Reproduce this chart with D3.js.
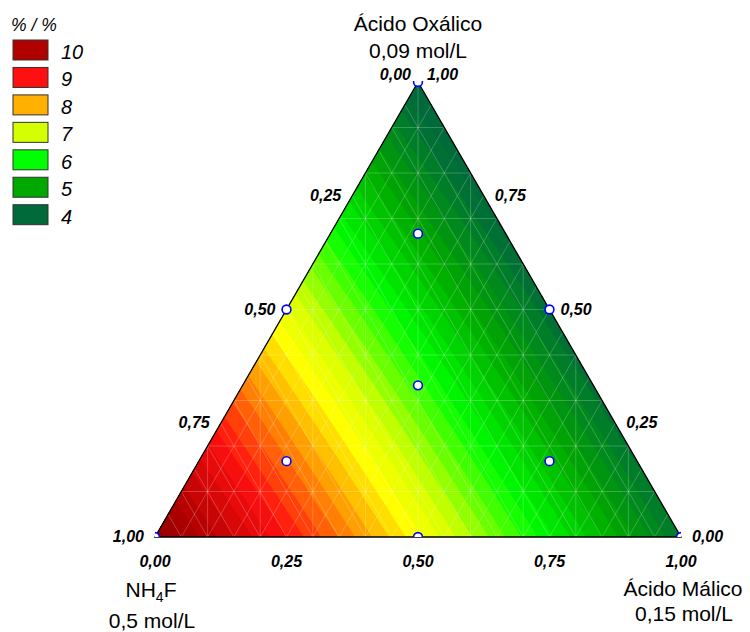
<!DOCTYPE html>
<html>
<head>
<meta charset="utf-8">
<script src="https://cdn.jsdelivr.net/npm/d3@7/dist/d3.min.js"></script>
<style>
  body { margin: 0; background: #fff; }
  svg { display: block; font-family: "Liberation Sans", Arial, sans-serif; }
</style>
</head>
<body>
<svg id="chart" width="750" height="632"></svg>
<script>
// Fitted Scheffé quadratic model, components: a = NH4F, b = Ácido Málico, c = Ácido Oxálico
const modelTerms = ["a", "b", "c", "ab", "ac", "bc"];
const modelCoefs = [10.5, 4.2, 3.75, 0.4, 0.4, 0.3];

// Experimental design (simplex-centroid with axial points)
const designNH4F    = [1, 0, 0, 0.5, 0.5, 0,   1/3, 2/3, 1/6, 1/6];
const designMalico  = [0, 1, 0, 0.5, 0,   0.5, 1/3, 1/6, 2/3, 1/6];
const designOxalico = [0, 0, 1, 0,   0.5, 0.5, 1/3, 1/6, 1/6, 2/3];

// Colour legend
const legendTitle = "% / %";
const legendLevels = [10, 9, 8, 7, 6, 5, 4];
const legendColors = ["#b00000", "#ff1010", "#ffb000", "#d4ff00", "#00ff00", "#00a800", "#006a3a"];

// Continuous surface palette
const surfaceStops  = [4, 5, 6, 7, 7.5, 8, 9, 10, 10.6];
const surfaceColors = ["#006a3a", "#00a800", "#00ff00", "#d4ff00", "#ffff00", "#ffb000", "#ff1010", "#b00000", "#8a0000"];
const bandStep = 0.2;

// Axis ticks
const tickValues = [0, 0.25, 0.5, 0.75, 1];
const tickFormat = v => v.toFixed(2).replace(".", ",");

const svg = d3.select("#chart");

// Ternary frame: horizontal position (b + c/2) and height (c)
const xs = d3.scaleLinear().domain([0, 1]).range([155, 681]);
const ys = d3.scaleLinear().domain([0, 1]).range([537, 82]);
const project = (a, b, c) => [xs(b + c / 2), ys(c)];

const model = (a, b, c) => {
  const t = [a, b, c, a * b, a * c, b * c];
  return d3.sum(t, (v, i) => v * modelCoefs[i]);
};

const color = d3.scaleLinear().domain(surfaceStops).range(surfaceColors).clamp(true);

const A = project(1, 0, 0), B = project(0, 1, 0), C = project(0, 0, 1);
const triangle = [A, B, C];

svg.append("clipPath").attr("id", "tri")
  .append("path").attr("d", "M" + triangle.join("L") + "Z");

// Sample the model on a fine pixel grid and trace filled bands
const step = 2;
const gx0 = xs(0) - 6, gy0 = ys(1) - 6;
const nx = Math.ceil((xs(1) - xs(0) + 12) / step) + 1;
const ny = Math.ceil((ys(0) - ys(1) + 12) / step) + 1;
const grid = new Array(nx * ny);
for (let j = 0; j < ny; j++) {
  for (let i = 0; i < nx; i++) {
    const px = gx0 + i * step, py = gy0 + j * step;
    const c = ys.invert(py);
    const b = xs.invert(px) - c / 2;
    const a = 1 - b - c;
    grid[j * nx + i] = model(a, b, c);
  }
}
const thresholds = d3.range(3.0, 11.2, bandStep);
const bands = d3.contours().size([nx, ny]).thresholds(thresholds)(grid);
const path = d3.geoPath(d3.geoIdentity().scale(step).translate([gx0 - step / 2, gy0 - step / 2]));

const surface = svg.append("g").attr("clip-path", "url(#tri)");
surface.selectAll("path.band").data(bands).join("path")
  .attr("class", "band")
  .attr("d", path)
  .attr("fill", d => color(d.value + bandStep / 2))
  .attr("stroke", d => color(d.value + bandStep / 2))
  .attr("stroke-width", 0.4);

// Light mesh lines over the surface
const mesh = surface.append("g")
  .attr("stroke", "#ffffff").attr("stroke-opacity", 0.28).attr("stroke-width", 0.8);
const seg = (p, q) => mesh.append("line")
  .attr("x1", p[0]).attr("y1", p[1]).attr("x2", q[0]).attr("y2", q[1]);
d3.range(1, 20).forEach(k => {
  const t = k / 20;
  seg(project(t, 1 - t, 0), project(t, 0, 1 - t));   // constant NH4F
  seg(project(1 - t, t, 0), project(0, t, 1 - t));   // constant Málico
});
d3.range(1, 10).forEach(k => {
  const t = k / 10;
  seg(project(1 - t, 0, t), project(0, 1 - t, t));   // constant Oxálico
  const top = t <= 0.5 ? 2 * t : 2 * (1 - t);
  seg([xs(t), ys(0)], [xs(t), ys(top)]);              // verticals
});

// Triangle outline
svg.append("path")
  .attr("d", "M" + triangle.join("L") + "Z")
  .attr("fill", "none").attr("stroke", "#000").attr("stroke-width", 1.3);

// Design points, clipped to the plotting rectangle
svg.append("clipPath").attr("id", "plotrect")
  .append("rect").attr("x", xs(0)).attr("y", ys(1) - 1)
  .attr("width", xs(1) - xs(0)).attr("height", ys(0) - ys(1) + 1);
const pts = designNH4F.map((a, i) => project(a, designMalico[i], designOxalico[i]));
svg.append("g").attr("clip-path", "url(#plotrect)")
  .selectAll("circle").data(pts).join("circle")
  .attr("cx", d => d[0]).attr("cy", d => d[1]).attr("r", 4.4)
  .attr("fill", "#fff").attr("stroke", "#0000ff").attr("stroke-width", 1.6);

// Tick labels
const tickStyle = sel => sel.attr("font-size", 16).attr("font-weight", "bold")
  .attr("font-style", "italic").attr("fill", "#000");
const ticks = svg.append("g");
// bottom: Ácido Málico fraction
ticks.selectAll("text.bt").data(tickValues).join("text").attr("class", "bt")
  .call(tickStyle)
  .attr("x", v => project(1 - v, v, 0)[0]).attr("y", ys(0) + 30)
  .attr("text-anchor", "middle").text(tickFormat);
// left side: NH4F fraction
ticks.selectAll("text.lt").data(tickValues).join("text").attr("class", "lt")
  .call(tickStyle)
  .attr("x", v => project(v, 0, 1 - v)[0] - (v === 0 ? 7 : 11))
  .attr("y", v => project(v, 0, 1 - v)[1] + (v === 0 ? -2 : 5))
  .attr("text-anchor", "end").text(tickFormat);
// right side: Ácido Oxálico fraction
ticks.selectAll("text.rt").data(tickValues).join("text").attr("class", "rt")
  .call(tickStyle)
  .attr("x", v => project(0, 1 - v, v)[0] + (v === 1 ? 9 : 11))
  .attr("y", v => project(0, 1 - v, v)[1] + (v === 1 ? -2 : 5))
  .attr("text-anchor", "start").text(tickFormat);

// Component titles
const titles = svg.append("g").attr("font-size", 21).attr("fill", "#000").attr("text-anchor", "middle");
titles.append("text").attr("x", C[0]).attr("y", 31).text("Ácido Oxálico");
titles.append("text").attr("x", C[0]).attr("y", 58).text("0,09 mol/L");
const nh = titles.append("text").attr("x", A[0] - 4).attr("y", 597);
nh.append("tspan").text("NH");
nh.append("tspan").attr("font-size", 14).attr("dy", 5).text("4");
nh.append("tspan").attr("dy", -5).text("F");
titles.append("text").attr("x", A[0] - 3).attr("y", 628).text("0,5 mol/L");
titles.append("text").attr("x", B[0] + 2).attr("y", 596).text("Ácido Málico");
titles.append("text").attr("x", B[0] + 3).attr("y", 621).text("0,15 mol/L");

// Legend
const legend = svg.append("g");
legend.append("text").attr("x", 11).attr("y", 31)
  .attr("font-size", 17.5).attr("font-style", "italic").text(legendTitle);
const items = legend.selectAll("g.item").data(legendLevels).join("g")
  .attr("class", "item")
  .attr("transform", (d, i) => `translate(13,${40 + i * 27.45})`);
items.append("rect").attr("width", 35).attr("height", 20)
  .attr("fill", (d, i) => legendColors[i]).attr("stroke", "#333").attr("stroke-width", 1);
items.append("text").attr("x", 48).attr("y", 19)
  .attr("font-size", 20).attr("font-style", "italic").text(d => d);
</script>
</body>
</html>
